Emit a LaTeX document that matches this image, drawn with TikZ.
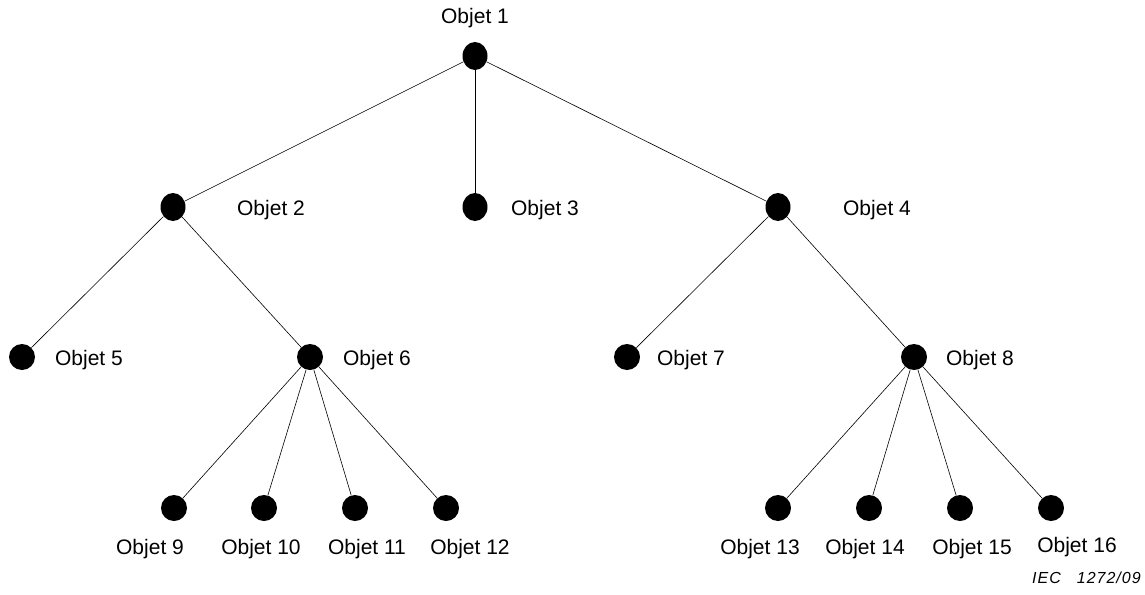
\documentclass[tikz,border=0pt]{standalone}
\usepackage{fontspec}
\setmainfont{Liberation Sans}
\usetikzlibrary{shapes.geometric}
\tikzset{every picture/.style={line width=0.6pt}}
\tikzset{
  pt/.style={circle,fill=black,inner sep=0pt,minimum size=26pt},
  pthaut/.style={ellipse,fill=black,inner sep=0pt,minimum width=25pt,minimum height=28pt},
  nom/.style={font=\fontsize{21}{25}\selectfont,inner sep=0pt}
}
\begin{document}
\begin{tikzpicture}[x=1pt,y=-1pt]
	\useasboundingbox (0,0) rectangle (1145,594);
	%Noeud 1
	\node[pthaut] (o1) at (475,56) {};
	\node[nom] (t1) at (475,18) {Objet 1};
	%Noeuds 2,3,4
	\node[pthaut] (o2) at (173,207) {};
	\node[pthaut] (o3) at (475,207) {};
	\node[pthaut] (o4) at (778,207) {};
	\node[nom] (t2) at (271,210) {Objet 2};
	\node[nom] (t3) at (545,210) {Objet 3};
	\node[nom] (t4) at (877,210) {Objet 4};
	%Noeuds 5,6,7,8
	\node[pt] (o5) at (22,357) {};
	\node[pt] (o6) at (310,357) {};
	\node[pt] (o7) at (627,357) {};
	\node[pt] (o8) at (914,357) {};
	\node[nom] (t5) at (89,360) {Objet 5};
	\node[nom] (t6) at (377,360) {Objet 6};
	\node[nom] (t7) at (691,360) {Objet 7};
	\node[nom] (t8) at (980,360) {Objet 8};
	%Noeuds 9-12
	\node[pt] (o9) at (174,508) {};
	\node[pt] (o10) at (264,508) {};
	\node[pt] (o11) at (355,508) {};
	\node[pt] (o12) at (446,508) {};
	\node[nom] (t9) at (150,549) {Objet 9};
	\node[nom] (t10) at (261,549) {Objet 10};
	\node[nom] (t11) at (367,549) {Objet 11};
	\node[nom] (t12) at (470,549) {Objet 12};
	%Noeuds 13-16
	\node[pt] (o13) at (778,508) {};
	\node[pt] (o14) at (869,508) {};
	\node[pt] (o15) at (960,508) {};
	\node[pt] (o16) at (1051,508) {};
	\node[nom] (t13) at (760,549) {Objet 13};
	\node[nom] (t14) at (865,549) {Objet 14};
	\node[nom] (t15) at (972,549) {Objet 15};
	\node[nom] (t16) at (1077,547) {Objet 16};
	%Liens
	\draw (o1)--(o2);
	\draw (o1)--(o3);
	\draw (o1)--(o4);
	\draw (o2)--(o5);
	\draw (o2)--(o6);
	\draw (o4)--(o7);
	\draw (o4)--(o8);
	\draw (o6)--(o9);
	\draw (o6)--(o10);
	\draw (o6)--(o11);
	\draw (o6)--(o12);
	\draw (o8)--(o13);
	\draw (o8)--(o14);
	\draw (o8)--(o15);
	\draw (o8)--(o16);
	%Reference
	\node[inner sep=0pt,anchor=east,font=\fontsize{16}{19}\selectfont\itshape] (iec) at (1141,578) {I\kern1pt E\kern1pt C\quad 1\kern1pt 2\kern1pt 7\kern1pt 2\kern1pt /\kern1pt 0\kern1pt 9};
\end{tikzpicture}
\end{document}
